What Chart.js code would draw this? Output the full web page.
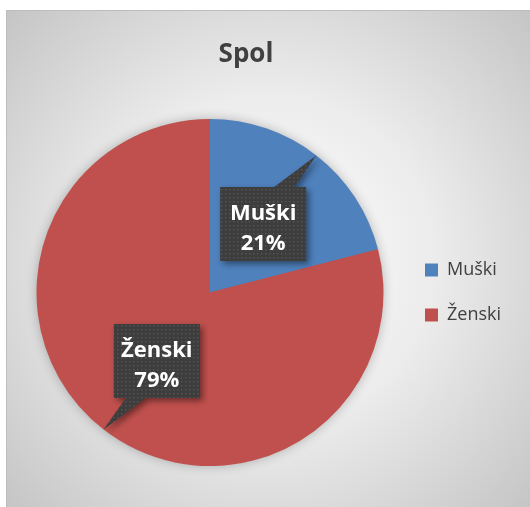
<!DOCTYPE html>
<html>
<head>
<meta charset="utf-8">
<script src="https://cdn.jsdelivr.net/npm/chart.js@4.4.0/dist/chart.umd.min.js"></script>
<style>
html, body { margin: 0; padding: 0; background: #fff; }
</style>
</head>
<body>
<canvas id="spolChart" width="530" height="507"></canvas>
<script>
const chartTitle = 'Spol';
const categories = ['Muški', 'Ženski'];
const shares = [21, 79];
const sliceColors = ['#4F81BD', '#C0504D'];

// dotted dark fill used by the callouts
function makeDots() {
    const c = document.createElement('canvas');
    c.width = 4;
    c.height = 4;
    const g = c.getContext('2d');
    g.fillStyle = '#3d3d3d';
    g.fillRect(0, 0, 4, 4);
    g.fillStyle = '#545454';
    g.fillRect(1, 1, 1.5, 1.5);
    return c;
}

const framePlugin = {
    id: 'frame',
    beforeDraw(chart) {
        const ctx = chart.ctx;
        const w = chart.width, h = chart.height;
        ctx.save();
        ctx.fillStyle = '#fff';
        ctx.fillRect(0, 0, w, h);
        const grad = ctx.createRadialGradient(268, 260, 0, 268, 260, 370);
        grad.addColorStop(0, '#ffffff');
        grad.addColorStop(0.45, '#ececec');
        grad.addColorStop(1, '#c3c3c3');
        ctx.fillStyle = grad;
        ctx.fillRect(6, 10, w - 6, h - 10);
        ctx.strokeStyle = '#bdbdbd';
        ctx.lineWidth = 1;
        ctx.strokeRect(6.5, 10.5, w - 6, h - 10);

        ctx.fillStyle = '#404040';
        ctx.font = 'bold 26px "Open Sans"';
        ctx.textAlign = 'center';
        ctx.textBaseline = 'alphabetic';
        ctx.fillText(chartTitle, 246, 62);
        ctx.restore();
    },
    beforeDatasetsDraw(chart) {
        const arc = chart.getDatasetMeta(0).data[0];
        const ctx = chart.ctx;
        ctx.save();
        ctx.shadowColor = 'rgba(0, 0, 0, 0.3)';
        ctx.shadowBlur = 12;
        ctx.fillStyle = sliceColors[1];
        ctx.beginPath();
        ctx.arc(arc.x, arc.y, arc.outerRadius - 1, 0, Math.PI * 2);
        ctx.fill();
        ctx.restore();
    }
};

const calloutPlugin = {
    id: 'callouts',
    afterDatasetsDraw(chart) {
        const ctx = chart.ctx;
        const dots = ctx.createPattern(makeDots(), 'repeat');
        const arcs = chart.getDatasetMeta(0).data;
        arcs.forEach((arc, i) => {
            const mid = (arc.startAngle + arc.endAngle) / 2;
            const r = arc.outerRadius;
            const tipX = arc.x + Math.cos(mid) * r;
            const tipY = arc.y + Math.sin(mid) * r;
            const cx = arc.x + Math.cos(mid) * r * 0.5;
            const cy = arc.y + Math.sin(mid) * r * 0.5;
            const bw = 86, bh = 74;
            const left = cx - bw / 2, right = cx + bw / 2;
            const top = cy - bh / 2, bottom = cy + bh / 2;
            const bx = cx + Math.sign(Math.cos(mid)) * 21;

            ctx.save();
            ctx.beginPath();
            if (tipY < top) {
                ctx.moveTo(left, top);
                ctx.lineTo(bx - 10, top);
                ctx.lineTo(tipX, tipY);
                ctx.lineTo(bx + 10, top);
                ctx.lineTo(right, top);
                ctx.lineTo(right, bottom);
                ctx.lineTo(left, bottom);
            } else {
                ctx.moveTo(left, top);
                ctx.lineTo(right, top);
                ctx.lineTo(right, bottom);
                ctx.lineTo(bx + 10, bottom);
                ctx.lineTo(tipX, tipY);
                ctx.lineTo(bx - 10, bottom);
                ctx.lineTo(left, bottom);
            }
            ctx.closePath();
            ctx.shadowColor = 'rgba(0, 0, 0, 0.45)';
            ctx.shadowBlur = 6;
            ctx.shadowOffsetX = 3;
            ctx.shadowOffsetY = 3;
            ctx.fillStyle = dots;
            ctx.fill();
            ctx.restore();

            ctx.save();
            ctx.fillStyle = '#ffffff';
            ctx.font = 'bold 22px "Open Sans"';
            ctx.textAlign = 'center';
            ctx.textBaseline = 'alphabetic';
            ctx.fillText(chart.data.labels[i], cx, cy - 4);
            ctx.fillText(chart.data.datasets[0].data[i] + '%', cx, cy + 26);
            ctx.restore();
        });
    }
};

new Chart(document.getElementById('spolChart'), {
    type: 'pie',
    data: {
        labels: categories,
        datasets: [{
            data: shares,
            backgroundColor: sliceColors,
            borderWidth: 0,
            hoverOffset: 0,
            offset: 0
        }]
    },
    options: {
        responsive: false,
        animation: false,
        layout: {
            padding: { top: 119, left: 22, right: 19, bottom: 41 }
        },
        plugins: {
            title: { display: false },
            tooltip: { enabled: false },
            legend: {
                position: 'right',
                labels: {
                    boxWidth: 13,
                    boxHeight: 13,
                    padding: 27,
                    color: '#404040',
                    font: { family: 'Open Sans', size: 18 }
                }
            }
        }
    },
    plugins: [framePlugin, calloutPlugin]
});
</script>
</body>
</html>
